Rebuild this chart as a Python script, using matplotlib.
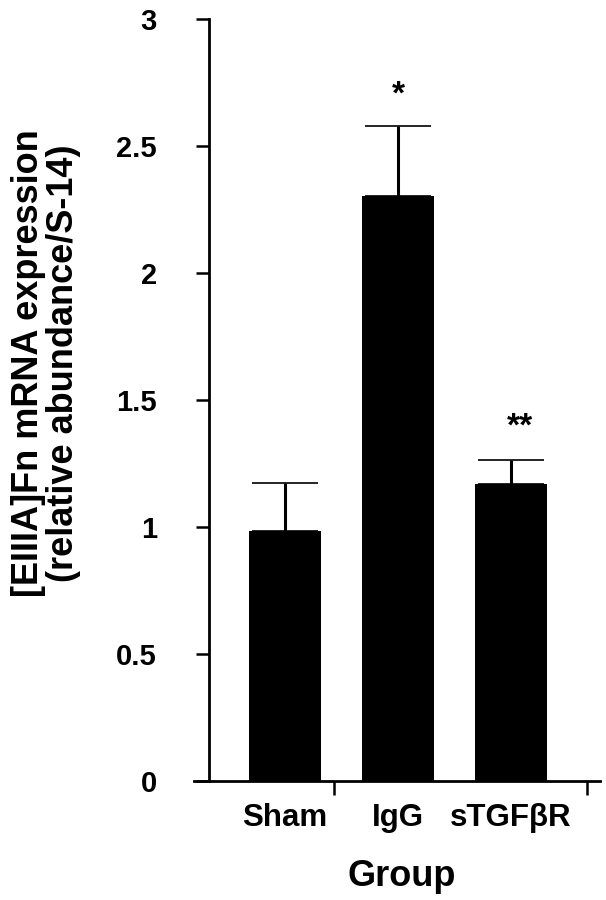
import matplotlib
matplotlib.use("Agg")
import matplotlib.pyplot as plt
from matplotlib.ticker import FixedLocator

categories = ["Sham", "IgG", "sTGF\u03b2R"]
means = [0.984, 2.304, 1.168]
errors = [0.19, 0.273, 0.096]
stars = ["", "*", "**"]
star_y = [0, 2.70, 1.394]
star_x = [0, 1.0, 2.08]
yticks = [0, 0.5, 1, 1.5, 2, 2.5, 3]
yticklabels = ["0", "0.5", "1", "1.5", "2", "2.5", "3"]

plt.rcParams['font.family'] = ['Liberation Sans', 'DejaVu Sans']
plt.rcParams['font.weight'] = 'bold'

fig = plt.figure(figsize=(6.06, 9.0), dpi=100)
W, H = 606, 900
ax = fig.add_axes([194 / W, 1 - 781 / H, (600 - 194) / W, (781 - 19) / H])

x = list(range(len(categories)))
ax.bar(x, means, width=0.63, color='black', zorder=2)
ax.errorbar(x, means, yerr=[[0] * len(errors), errors], fmt='none',
            ecolor='black', elinewidth=2.2, capsize=23.5, capthick=1.2, zorder=3)

for sx, sy, s in zip(star_x, star_y, stars):
    if s:
        ax.text(sx, sy, s, ha='center', va='center', fontsize=24, fontweight='bold')

ax.set_xlim(-0.805, 2.788)
ax.set_ylim(0, 3)

for side in ['top', 'right']:
    ax.spines[side].set_visible(False)
ax.spines['left'].set_position(('data', -0.673))
ax.spines['left'].set_linewidth(2.0)
ax.spines['bottom'].set_linewidth(2.0)

ax.set_yticks(yticks)
ax.set_yticklabels(yticklabels, fontsize=21, fontweight='bold')
ax.tick_params(axis='y', direction='out', length=9.5, width=1.8, pad=28)

ax.set_xticks(x)
ax.set_xticklabels(categories, fontsize=22.5, fontweight='bold')
ax.tick_params(axis='x', which='major', length=0, pad=16)
ax.xaxis.set_minor_locator(FixedLocator([0.434, 2.673]))
ax.tick_params(axis='x', which='minor', direction='out', length=10, width=1.8)

fig.text(46 / W, 1 - 363 / H,
         "[EIIIA]Fn mRNA expression\n(relative abundance/S-14)",
         rotation=90, ha='center', va='center', multialignment='center',
         fontsize=26, fontweight='bold', linespacing=1.0)
fig.text(402 / W, 1 - 886 / H, "Group", ha='center', va='baseline',
         fontsize=26, fontweight='bold')

fig.savefig("out.png", dpi=100)
